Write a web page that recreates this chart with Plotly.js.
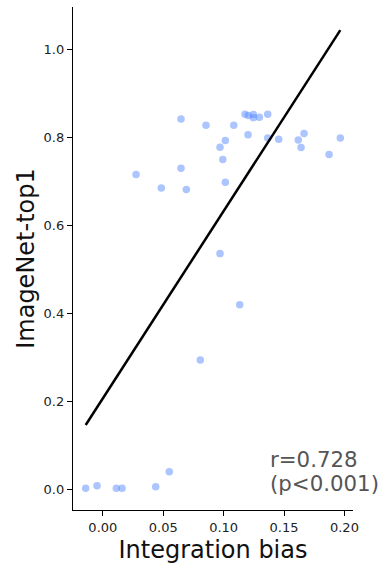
<!DOCTYPE html>
<html>
<head>
<meta charset="utf-8">
<script src="https://cdn.plot.ly/plotly-3.0.1.min.js"></script>
<style>
html,body{margin:0;padding:0;background:#fff;}
#chart{width:380px;height:569px;}
</style>
</head>
<body>
<div id="chart"></div>
<script>
// Integration bias (x) and ImageNet-top1 accuracy (y) per model
const biasX = [0.0647, 0.0854, 0.1084, 0.1177, 0.1204, 0.1246, 0.1246, 0.1296, 0.1365,
  0.1202, 0.1014, 0.0970, 0.0993, 0.1365, 0.1456, 0.1618, 0.1666, 0.1641, 0.1873, 0.1966,
  0.0275, 0.0647, 0.0484, 0.0691, 0.1014, 0.0970, 0.1133, 0.0807,
  -0.0142, -0.0048, 0.0112, 0.0159, 0.0438, 0.0550];
const top1Y = [0.841, 0.827, 0.827, 0.852, 0.849, 0.851, 0.844, 0.845, 0.852,
  0.805, 0.792, 0.777, 0.749, 0.798, 0.795, 0.793, 0.808, 0.776, 0.760, 0.798,
  0.715, 0.729, 0.684, 0.681, 0.697, 0.535, 0.419, 0.293,
  0.002, 0.0075, 0.0016, 0.0016, 0.005, 0.039];
// Regression line end points
const fitX = [-0.0142, 0.1966];
const fitY = [0.1455, 1.043];
const xTicks = [0.00, 0.05, 0.10, 0.15, 0.20];
const yTicks = [0.0, 0.2, 0.4, 0.6, 0.8, 1.0];
const statLines = ['r=0.728', '(p<0.001)'];

const font = 'DejaVu Sans, Liberation Sans, sans-serif';

const traces = [
  {
    x: biasX, y: top1Y, type: 'scatter', mode: 'markers',
    marker: {size: 7.5, color: 'rgba(90,140,255,0.5)', line: {width: 0}},
    hoverinfo: 'skip', showlegend: false
  },
  {
    x: fitX, y: fitY, type: 'scatter', mode: 'lines',
    line: {color: '#000', width: 2.5},
    hoverinfo: 'skip', showlegend: false
  }
];

const layout = {
  width: 380, height: 569,
  margin: {l: 73, r: 27, t: 7, b: 59, pad: 0},
  paper_bgcolor: '#fff', plot_bgcolor: '#fff',
  font: {family: font, color: '#222'},
  xaxis: {
    range: [-0.0247, 0.2071],
    tickmode: 'array', tickvals: xTicks, tickformat: '.2f',
    ticks: 'outside', ticklen: 5, tickwidth: 1, tickcolor: '#000',
    tickfont: {size: 13, family: font, color: '#222'},
    showline: true, linecolor: '#000', linewidth: 1.2,
    showgrid: false, zeroline: false,
    title: {text: 'Integration bias', font: {size: 24, family: font, color: '#111'}, standoff: 7}
  },
  yaxis: {
    range: [-0.0477, 1.0955],
    tickmode: 'array', tickvals: yTicks, tickformat: '.1f',
    ticks: 'outside', ticklen: 5, tickwidth: 1, tickcolor: '#000',
    tickfont: {size: 13, family: font, color: '#222'},
    showline: true, linecolor: '#000', linewidth: 1.2,
    showgrid: false, zeroline: false,
    title: {text: 'ImageNet-top1', font: {size: 24, family: font, color: '#111'}, standoff: 2}
  },
  annotations: [
    {
      x: 0.1368, y: 0.0682, xref: 'x', yref: 'y',
      xanchor: 'left', yanchor: 'middle', align: 'left',
      text: statLines[0], showarrow: false,
      font: {size: 21.3, family: font, color: '#555'}
    },
    {
      x: 0.1368, y: 0.0136, xref: 'x', yref: 'y',
      xanchor: 'left', yanchor: 'middle', align: 'left',
      text: statLines[1], showarrow: false,
      font: {size: 21.3, family: font, color: '#555'}
    }
  ]
};

Plotly.newPlot('chart', traces, layout, {displayModeBar: false, staticPlot: true});
</script>
</body>
</html>
